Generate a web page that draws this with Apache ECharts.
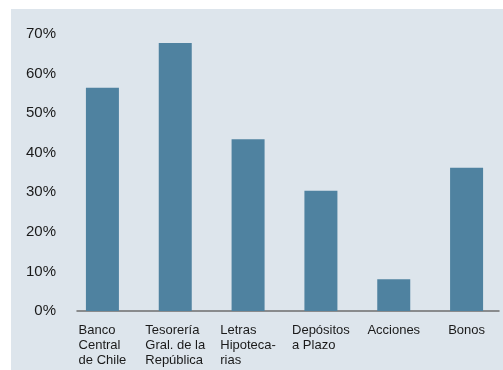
<!DOCTYPE html>
<html>
<head>
<meta charset="utf-8">
<script src="https://cdn.jsdelivr.net/npm/echarts@6/dist/echarts.min.js"></script>
<style>
html,body{margin:0;padding:0;background:#fff;}
#c{width:503px;height:370px;}
</style>
</head>
<body>
<div id="c"></div>
<script>
var categories = ["Banco\nCentral\nde Chile", "Tesorería\nGral. de la\nRepública", "Letras\nHipoteca-\nrias", "Depósitos\na Plazo", "Acciones", "Bonos"];
var values = [56.4, 67.7, 43.4, 30.4, 8.0, 36.2];
var yTicks = [0, 10, 20, 30, 40, 50, 60, 70];

var chart = echarts.init(document.getElementById('c'), null, {renderer: 'canvas'});
chart.setOption({
  backgroundColor: '#ffffff',
  animation: false,
  textStyle: {fontFamily: 'Liberation Sans, Arial, sans-serif'},
  graphic: [{
    type: 'rect', z: -10, silent: true,
    shape: {x: 11, y: 9, width: 492, height: 361},
    style: {fill: '#dde5ec'}
  }],
  grid: [
    {left: 66, right: -2, top: 34, bottom: 59},
    {left: 77, right: 4, top: 34, bottom: 59}
  ],
  xAxis: [{
    type: 'category',
    data: categories,
    gridIndex: 0,
    axisLine: {show: false},
    axisTick: {show: false},
    axisLabel: {
      interval: 0,
      margin: 12,
      color: '#1a1a1a',
      fontSize: 13,
      lineHeight: 15,
      fontFamily: 'Liberation Sans, Arial, sans-serif',
      formatter: function (v) {
        return v.split('\n').map(function (s) { return '{a|' + s + '}'; }).join('\n');
      },
      rich: {a: {align: 'left', fontSize: 13, lineHeight: 15, color: '#1a1a1a', fontFamily: 'Liberation Sans, Arial, sans-serif'}}
    }
  }, {
    type: 'value',
    gridIndex: 1,
    axisLine: {show: true, lineStyle: {color: '#6e6e6e', width: 1.5}},
    axisTick: {show: false},
    axisLabel: {show: false},
    splitLine: {show: false}
  }],
  yAxis: [{
    type: 'value',
    gridIndex: 0,
    min: yTicks[0],
    max: yTicks[yTicks.length - 1],
    interval: 10,
    axisLine: {show: false},
    axisTick: {show: false},
    splitLine: {show: false},
    axisLabel: {
      margin: 10,
      color: '#1a1a1a',
      fontSize: 15,
      fontFamily: 'Liberation Sans, Arial, sans-serif',
      formatter: '{value}%'
    }
  }, {
    type: 'value',
    gridIndex: 1,
    show: false
  }],
  series: [{
    type: 'bar',
    xAxisIndex: 0,
    yAxisIndex: 0,
    data: values,
    barWidth: 33,
    itemStyle: {color: '#4f82a0', borderColor: '#7fa3bb', borderWidth: 0}
  }]
});
</script>
</body>
</html>
